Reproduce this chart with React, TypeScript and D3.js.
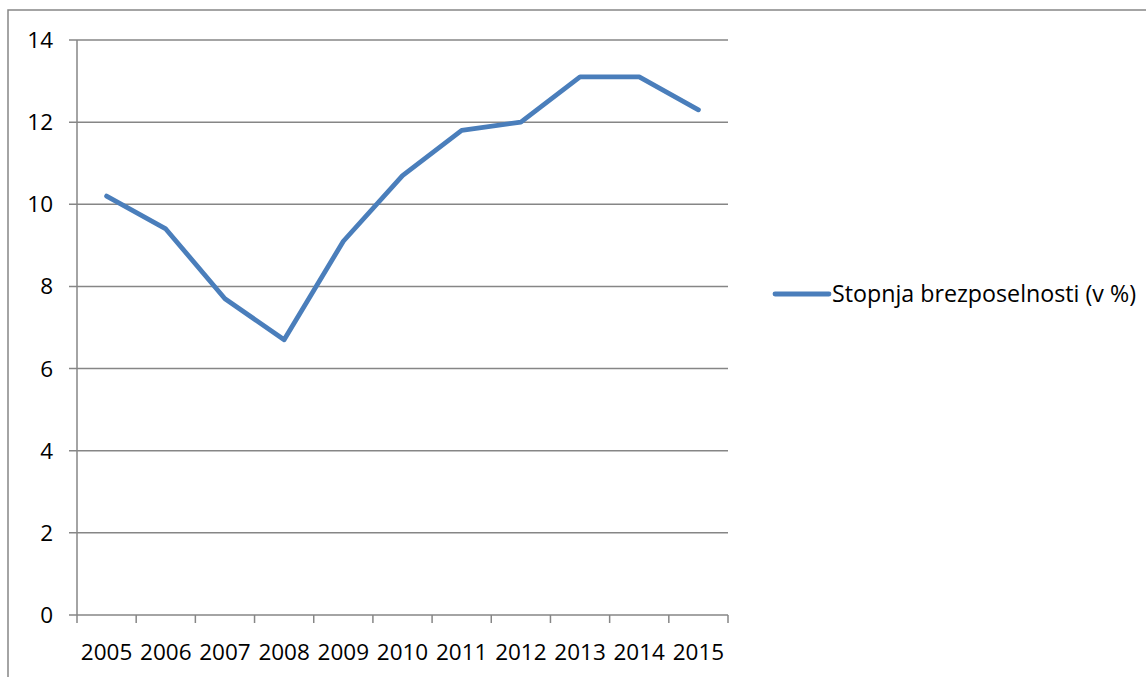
import { useEffect, useRef } from 'react';
import * as d3 from 'd3';

const years = ['2005', '2006', '2007', '2008', '2009', '2010', '2011', '2012', '2013', '2014', '2015'];
const unemployment = [10.2, 9.4, 7.7, 6.7, 9.1, 10.7, 11.8, 12.0, 13.1, 13.1, 12.3];
const yTicks = [0, 2, 4, 6, 8, 10, 12, 14];
const seriesName = 'Stopnja brezposelnosti (v %)';

export default function App() {
  const svgRef = useRef<SVGSVGElement>(null);

  useEffect(() => {
    if (!svgRef.current) return;
    const W = 1146;
    const H = 677;
    const M = { top: 40, left: 77, right: 418, bottom: 62 };
    const GRID = '#868686';
    const FONT = '"Open Sans", sans-serif';

    const svg = d3.select(svgRef.current).attr('width', W).attr('height', H);
    svg.selectAll('*').remove();

    // Chart frame (only top and left edges visible)
    svg.append('path').attr('d', `M8,${H} V10 H${W}`)
      .style('fill', 'none').style('stroke', GRID).style('stroke-width', 1.5);

    const x = d3.scaleBand<string>().domain(years).range([M.left, W - M.right]);
    const y = d3.scaleLinear().domain([0, 14]).range([H - M.bottom, M.top]);

    // Horizontal gridlines + y ticks
    svg.append('g').selectAll('line').data(yTicks).join('line')
      .attr('x1', M.left - 8).attr('x2', W - M.right)
      .attr('y1', d => y(d)).attr('y2', d => y(d))
      .style('stroke', GRID).style('stroke-width', 1.5);

    svg.append('g').selectAll('text').data(yTicks).join('text')
      .attr('x', M.left - 24).attr('y', d => y(d) + 8)
      .attr('text-anchor', 'end')
      .style('font-family', FONT).style('font-size', '22.5px').style('fill', '#000')
      .text(d => d);

    // Y axis line
    svg.append('line')
      .attr('x1', M.left).attr('x2', M.left)
      .attr('y1', y(14)).attr('y2', y(0))
      .style('stroke', GRID).style('stroke-width', 1.5);

    // X ticks at band boundaries
    const bounds = years.map(d => x(d)!).concat([W - M.right]);
    svg.append('g').selectAll('line').data(bounds).join('line')
      .attr('x1', d => d).attr('x2', d => d)
      .attr('y1', y(0)).attr('y2', y(0) + 8)
      .style('stroke', GRID).style('stroke-width', 1.5);

    svg.append('g').selectAll('text').data(years).join('text')
      .attr('x', d => x(d)! + x.bandwidth() / 2).attr('y', y(0) + 45)
      .attr('text-anchor', 'middle')
      .style('font-family', FONT).style('font-size', '22.5px').style('fill', '#000')
      .text(d => d);

    // Series line
    const line = d3.line<number>()
      .x((_, i) => x(years[i])! + x.bandwidth() / 2)
      .y(d => y(d));
    svg.append('path').datum(unemployment).attr('d', line)
      .style('fill', 'none').style('stroke', '#4a7ebb').style('stroke-width', 4.8)
      .style('stroke-linejoin', 'round').style('stroke-linecap', 'round');

    // Legend
    const ly = 294;
    svg.append('line').attr('x1', 775).attr('x2', 829).attr('y1', ly).attr('y2', ly)
      .style('stroke', '#4a7ebb').style('stroke-width', 4.8).style('stroke-linecap', 'round');
    svg.append('text').attr('x', 832).attr('y', ly + 8)
      .attr('textLength', 304).attr('lengthAdjust', 'spacingAndGlyphs')
      .style('font-family', FONT).style('font-size', '23px').style('fill', '#000')
      .text(seriesName);
  }, []);

  return <svg ref={svgRef} style={{ position: 'absolute', left: 0, top: 0, background: '#fff' }} />;
}
